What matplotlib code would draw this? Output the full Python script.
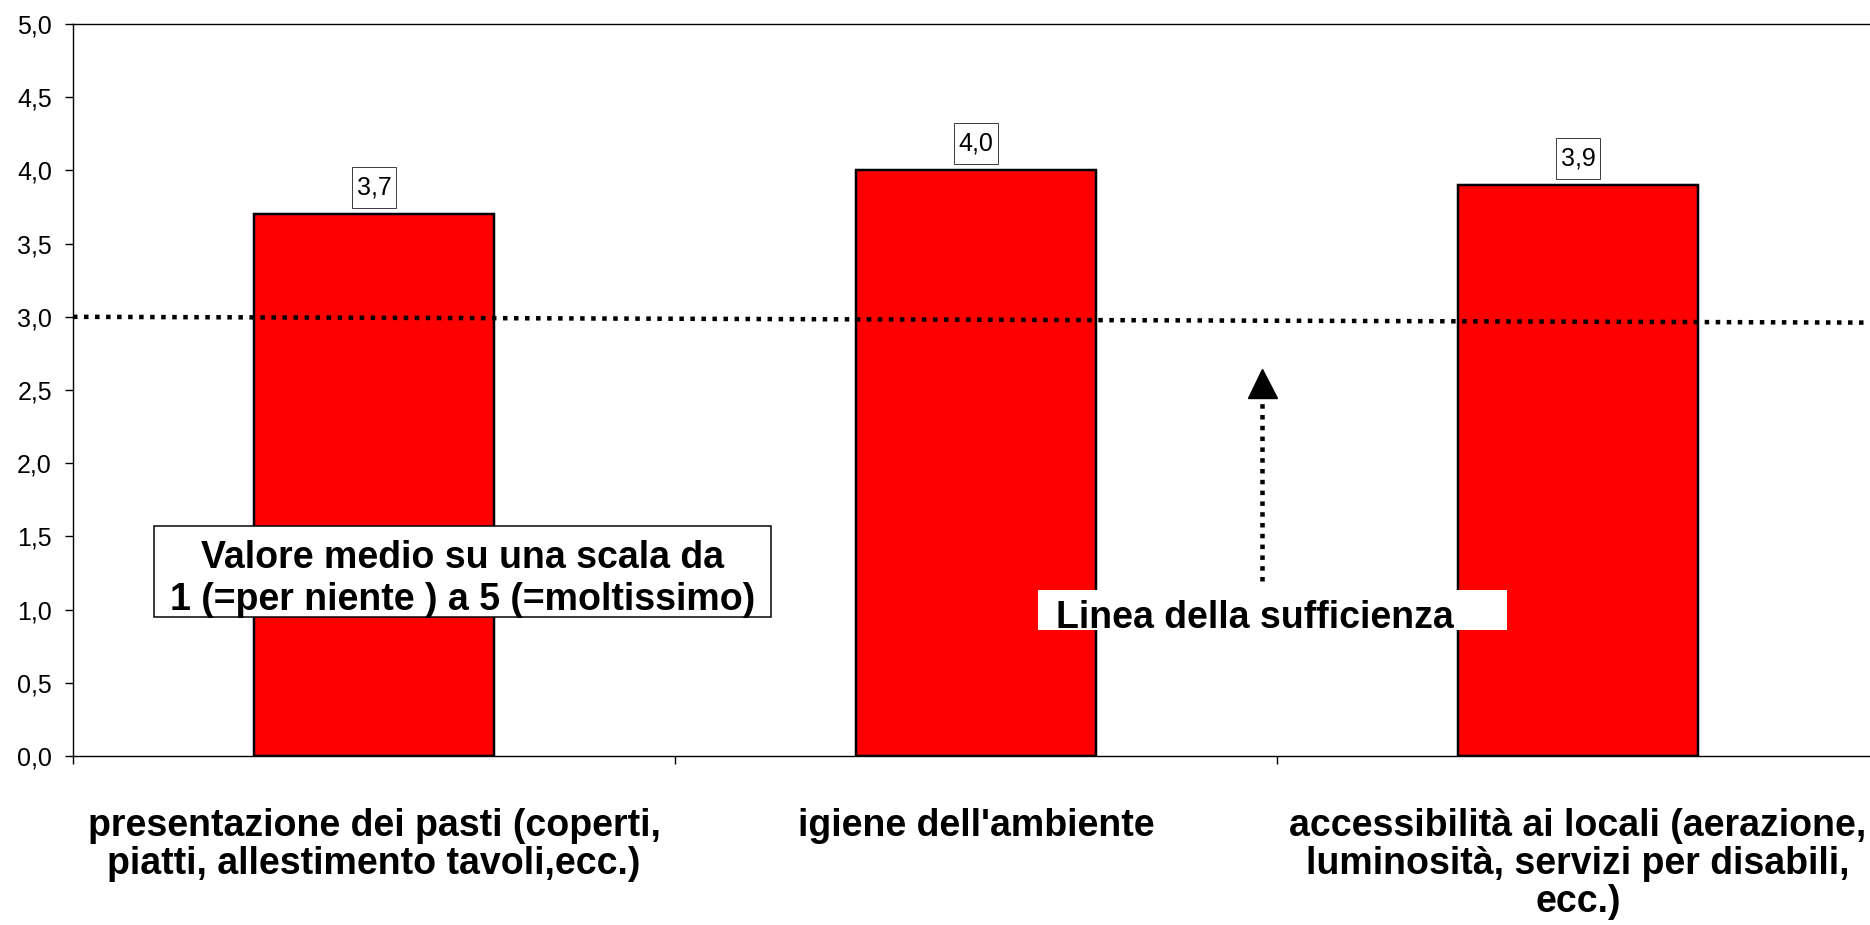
import numpy as np
import matplotlib
matplotlib.use("Agg")
import matplotlib.pyplot as plt
from matplotlib.patches import Rectangle
from matplotlib.path import Path

# ---------------- data ----------------
categorie = [
    "presentazione dei pasti (coperti,\npiatti, allestimento tavoli,ecc.)",
    "igiene dell'ambiente",
    "accessibilità ai locali (aerazione,\nluminosità, servizi per disabili,\necc.)",
]
valori = [3.7, 4.0, 3.9]
y_ticks = [0.0, 0.5, 1.0, 1.5, 2.0, 2.5, 3.0, 3.5, 4.0, 4.5, 5.0]
soglia_x = [-0.5, 2.5]
soglia_y = [3.0, 2.96]          # "Linea della sufficienza" (slightly sloped as drawn)
nota_scala = ["Valore medio su una scala da", "1 (=per niente ) a 5 (=moltissimo)"]
nota_linea = "Linea della sufficienza"

plt.rcParams["font.family"] = ["Liberation Sans", "DejaVu Sans"]

W, H, DPI = 1870, 925, 100
fig = plt.figure(figsize=(W / DPI, H / DPI), dpi=DPI)
fig.patch.set_facecolor("white")

# axes in pixel layout
left_px, right_px, top_px, bot_px = 73, 1879, 24, 756
ax = fig.add_axes([left_px / W, (H - bot_px) / H,
                   (right_px - left_px) / W, (bot_px - top_px) / H])
ax.set_xlim(-0.5, 2.5)
ax.set_ylim(0, 5)

px = 72 / DPI  # points per pixel

x = np.arange(len(categorie))
bars = ax.bar(x, valori, width=0.4, color="#ff0000", edgecolor="black",
              linewidth=2.5 * px, zorder=2)


def label_box(x0, y0, width, height, mutation_size):
    padx = 0.18 * mutation_size
    pady = 0.34 * mutation_size
    x0, y0 = x0 - padx, y0 - pady
    x1, y1 = x0 + width + 2 * padx, y0 + height + 2 * pady
    return Path([(x0, y0), (x1, y0), (x1, y1), (x0, y1), (x0, y0)],
                closed=True)


# value labels with boxes
for xi, v in zip(x, valori):
    ax.annotate(f"{v:.1f}".replace(".", ","), xy=(xi, v), xytext=(0, 27 * px),
                textcoords="offset points", ha="center", va="center",
                fontsize=18, color="black", zorder=5,
                bbox=dict(boxstyle=label_box, fc="white",
                          ec="#404040", lw=1.0 * px))

# sufficiency dotted line
ax.plot(soglia_x, soglia_y, color="black", lw=4.5 * px,
        linestyle=(0, (1, 1.45)), dash_capstyle="butt", zorder=4,
        clip_on=False)

# axes styling
for s in ax.spines.values():
    s.set_color("black")
    s.set_linewidth(1.4 * px)
    s.set_zorder(3)

ax.set_yticks(y_ticks)
ax.set_yticklabels([f"{t:.1f}".replace(".", ",") for t in y_ticks], fontsize=18)
ax.tick_params(axis="y", direction="out", length=8 * px, width=1.4 * px,
               pad=13 * px, colors="black")

ax.set_xticks([-0.5, 0.5, 1.5, 2.5])
ax.set_xticklabels([])
ax.tick_params(axis="x", which="major", direction="out", length=8 * px,
               width=1.4 * px)
ax.set_xticks(x, minor=True)
ax.set_xticklabels(categorie, minor=True, fontsize=27, fontweight="bold",
                   linespacing=1.08)
ax.tick_params(axis="x", which="minor", length=0, pad=52 * px)


# helper: pixel -> data
def dx(p):
    return (p - left_px) / (right_px - left_px) * 3 - 0.5


def dy(p):
    return (bot_px - p) / (bot_px - top_px) * 5


# arrow pointing to the sufficiency line
ax_x = dx(1262)
ax.plot([ax_x, ax_x], [dy(581), dy(397)], color="black", lw=4.5 * px,
        linestyle=(0, (1, 1.4)), dash_capstyle="butt", zorder=4)
ax.plot([ax_x], [dy((368 + 397) / 2)], marker="^", ms=29 * px,
        color="black", mec="black", zorder=4, linestyle="none")

# "Linea della sufficienza" label on white rectangle
ax.add_patch(Rectangle((dx(1038), dy(630)), dx(1507) - dx(1038),
                       dy(590) - dy(630), fc="white", ec="none", zorder=5))
ax.text(dx(1056), dy(628), nota_linea, fontsize=27, fontweight="bold",
        ha="left", va="baseline", zorder=6)

# scale note box
ax.add_patch(Rectangle((dx(154), dy(617)), dx(771) - dx(154),
                       dy(526) - dy(617), fc="white", ec="black",
                       lw=1.5 * px, zorder=5))
cx = dx((154 + 771) / 2)
ax.text(cx, dy(568), nota_scala[0], fontsize=27, fontweight="bold",
        ha="center", va="baseline", zorder=6)
ax.text(cx, dy(610), nota_scala[1], fontsize=27, fontweight="bold",
        ha="center", va="baseline", zorder=6)

fig.savefig("out.png", dpi=DPI, facecolor="white")
